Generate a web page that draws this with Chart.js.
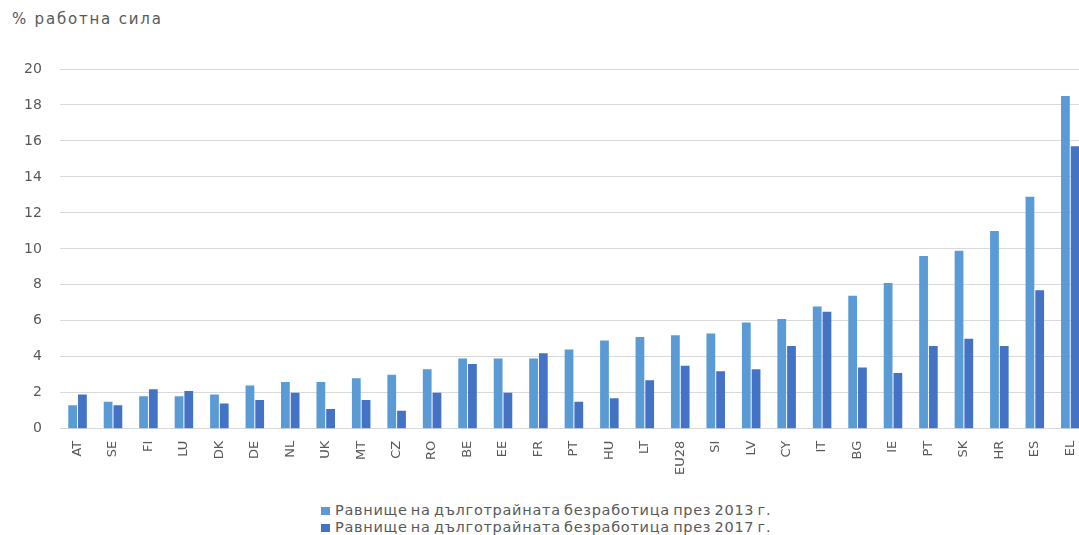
<!DOCTYPE html>
<html>
<head>
<meta charset="utf-8">
<script src="https://cdn.jsdelivr.net/npm/chart.js@4"></script>
<style>
    html, body { margin: 0; padding: 0; background: #fff; overflow: hidden; }
    body { width: 1079px; height: 535px; position: relative; font-family: "DejaVu Sans", sans-serif; }
    #unit { position: absolute; left: 12px; top: 10px; font-size: 15px; color: #595959; letter-spacing: 1.8px; }
    #wrap { position: absolute; left: 0; top: 0; width: 1090px; height: 483px; }
    #legend { position: absolute; left: 321px; top: 502px; font-size: 14.5px; color: #595959; line-height: 17px; letter-spacing: 0.7px; word-spacing: -2px; }
    #legend div { white-space: nowrap; }
    #legend span.box { display: inline-block; width: 9px; height: 8px; margin-right: 5px; }
</style>
</head>
<body>
<div id="unit">% работна сила</div>
<div id="wrap"><canvas id="chart"></canvas></div>
<div id="legend"></div>

<script>
// Countries, sorted by the 2013 level
const countries = ["AT", "SE", "FI", "LU", "DK", "DE", "NL", "UK", "MT", "CZ",
    "RO", "BE", "EE", "FR", "PT", "HU", "LT", "EU28", "SI", "LV",
    "CY", "IT", "BG", "IE", "PT", "SK", "HR", "ES", "EL"];

// Long-term unemployment, % of labour force
const level2013 = [1.3, 1.5, 1.8, 1.8, 1.9, 2.4, 2.6, 2.6, 2.8, 3.0,
    3.3, 3.9, 3.9, 3.9, 4.4, 4.9, 5.1, 5.2, 5.3, 5.9,
    6.1, 6.8, 7.4, 8.1, 9.6, 9.9, 11.0, 12.9, 18.5];
const level2017 = [1.9, 1.3, 2.2, 2.1, 1.4, 1.6, 2.0, 1.1, 1.6, 1.0,
    2.0, 3.6, 2.0, 4.2, 1.5, 1.7, 2.7, 3.5, 3.2, 3.3,
    4.6, 6.5, 3.4, 3.1, 4.6, 5.0, 4.6, 7.7, 15.7];

const seriesNames = [
    "Равнище на дълготрайната безработица през 2013 г.",
    "Равнище на дълготрайната безработица през 2017 г."
];
const seriesColors = ["#5b9bd5", "#4472c4"];

const textColor = "#595959";

let ctx = document.getElementById("chart").getContext("2d");
let chart = new Chart(ctx, {
    type: "bar",
    data: {
        labels: countries,
        datasets: [
            { label: seriesNames[0], data: level2013, backgroundColor: seriesColors[0] },
            { label: seriesNames[1], data: level2017, backgroundColor: seriesColors[1] }
        ]
    },
    options: {
        responsive: true,
        maintainAspectRatio: false,
        animation: false,
        categoryPercentage: 0.55,
        barPercentage: 0.9,
        layout: { padding: { top: 69, left: 6, right: 2, bottom: 4 } },
        plugins: {
            legend: { display: false },
            tooltip: { enabled: false }
        },
        scales: {
            x: {
                grid: { display: false },
                border: { display: false },
                ticks: {
                    color: textColor,
                    font: { family: "DejaVu Sans", size: 13 },
                    autoSkip: false,
                    minRotation: 90,
                    maxRotation: 90,
                    padding: 4
                }
            },
            y: {
                min: 0,
                max: 20,
                grid: { color: "#d9d9d9", drawTicks: false },
                border: { display: false },
                ticks: {
                    stepSize: 2,
                    color: textColor,
                    font: { family: "DejaVu Sans", size: 14 },
                    padding: 18
                }
            }
        }
    }
});

// Legend drawn below the chart, one series per line
let legend = document.getElementById("legend");
legend.innerHTML = seriesNames.map((name, i) =>
    `<div><span class="box" style="background:${seriesColors[i]}"></span>${name}</div>`
).join("");
</script>
</body>
</html>
